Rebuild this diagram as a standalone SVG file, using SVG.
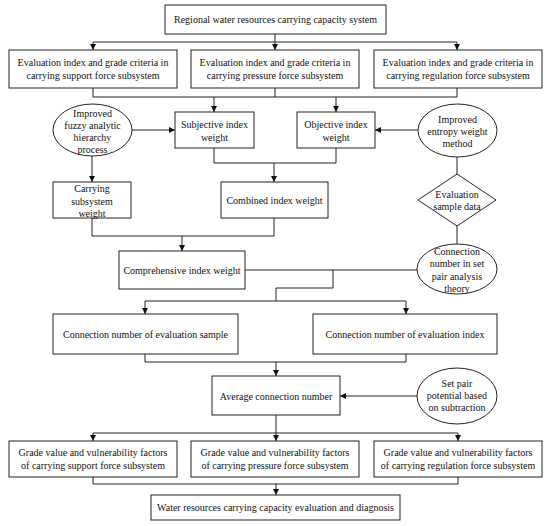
<svg xmlns="http://www.w3.org/2000/svg" width="550" height="526" viewBox="0 0 550 526">
<style>
.n{fill:#fff;stroke:#222;stroke-width:1}
.t{font-family:"Liberation Serif","Times New Roman",serif;font-size:10px;fill:#111;text-anchor:middle}
.c{fill:none;stroke:#222;stroke-width:1}
.a{marker-end:url(#ah)}
</style>
<defs>
<marker id="ah" markerWidth="6" markerHeight="6" refX="6" refY="3" orient="auto" markerUnits="userSpaceOnUse">
<path d="M0,0 L6,3 L0,6 Z" fill="#111"/>
</marker>
</defs>
<rect width="550" height="526" fill="#fff"/>
<g id="connectors">
<path class="c" d="M275,34 V42 M93,42 H457"/>
<path class="c a" d="M93,42 V50"/>
<path class="c a" d="M275,42 V50"/>
<path class="c a" d="M457,42 V50"/>
<path class="c" d="M93,88 V97 M275,88 V97 M457,88 V97 M93,97 H457"/>
<path class="c a" d="M214,97 V112"/>
<path class="c a" d="M336,97 V112"/>
<path class="c a" d="M132,130 H175"/>
<path class="c a" d="M418,130 H375"/>
<path class="c" d="M214,148 V163 H336 V148"/>
<path class="c a" d="M274,163 V182"/>
<path class="c a" d="M92,156 V182"/>
<path class="c" d="M92,218 V236 H274 V218"/>
<path class="c a" d="M182,236 V251"/>
<path class="c" d="M457,157 V174 M457,226 V244"/>
<path class="c" d="M245,270 H417"/>
<path class="c" d="M333,270 V288 H276 V301 M145,301 H406"/>
<path class="c a" d="M145,301 V314"/>
<path class="c a" d="M406,301 V314"/>
<path class="c" d="M145,354 V362 H406 V354"/>
<path class="c a" d="M276,362 V376"/>
<path class="c a" d="M417,396 H340"/>
<path class="c" d="M276,415 V433 M93,433 H458"/>
<path class="c a" d="M93,433 V441"/>
<path class="c a" d="M276,433 V441"/>
<path class="c a" d="M458,433 V441"/>
<path class="c" d="M93,477 V484 H458 V477"/>
<path class="c a" d="M276,484 V495"/>
</g>
<g id="n1"><rect class="n" x="165" y="5" width="221" height="29"/><text class="t" x="275.5" y="23">Regional water resources carrying capacity system</text></g>
<g id="n2"><rect class="n" x="9" y="50" width="168" height="38"/><text class="t" x="93" y="66">Evaluation index and grade criteria in</text><text class="t" x="93" y="79">carrying support force subsystem</text></g>
<g id="n3"><rect class="n" x="191" y="50" width="168" height="38"/><text class="t" x="275" y="66">Evaluation index and grade criteria in</text><text class="t" x="275" y="79">carrying pressure force subsystem</text></g>
<g id="n4"><rect class="n" x="374" y="50" width="168" height="38"/><text class="t" x="458" y="66">Evaluation index and grade criteria in</text><text class="t" x="458" y="79">carrying regulation force subsystem</text></g>
<g id="n5"><ellipse class="n" cx="92.5" cy="130" rx="39.5" ry="26"/><text class="t" x="92.5" y="117">Improved</text><text class="t" x="92.5" y="129">fuzzy analytic</text><text class="t" x="92.5" y="141">hierarchy</text><text class="t" x="92.5" y="153">process</text></g>
<g id="n6"><rect class="n" x="175" y="112" width="79" height="36"/><text class="t" x="214.5" y="128">Subjective index</text><text class="t" x="214.5" y="141">weight</text></g>
<g id="n7"><rect class="n" x="297" y="112" width="78" height="36"/><text class="t" x="336" y="128">Objective index</text><text class="t" x="336" y="141">weight</text></g>
<g id="n8"><ellipse class="n" cx="457.5" cy="130.5" rx="39.5" ry="26.5"/><text class="t" x="457.5" y="123">Improved</text><text class="t" x="457.5" y="135">entropy weight</text><text class="t" x="457.5" y="147">method</text></g>
<g id="n9"><rect class="n" x="53" y="182" width="78" height="36"/><text class="t" x="92" y="192">Carrying</text><text class="t" x="92" y="204.5">subsystem</text><text class="t" x="92" y="217">weight</text></g>
<g id="n10"><rect class="n" x="221" y="182" width="107" height="36"/><text class="t" x="274.5" y="203.5">Combined index weight</text></g>
<g id="n11"><path class="n" d="M457,174 L496,200 L457,226 L418,200 Z"/><text class="t" x="457" y="198">Evaluation</text><text class="t" x="457" y="210">sample data</text></g>
<g id="n12"><rect class="n" x="119" y="251" width="126" height="38"/><text class="t" x="182" y="273.5">Comprehensive index weight</text></g>
<g id="n13"><ellipse class="n" cx="457" cy="269" rx="40" ry="25"/><text class="t" x="457" y="255">Connection</text><text class="t" x="457" y="267">number in set</text><text class="t" x="457" y="279.5">pair analysis</text><text class="t" x="457" y="292">theory</text></g>
<g id="n14"><rect class="n" x="53" y="314" width="185" height="40"/><text class="t" x="145.5" y="337.5">Connection number of evaluation sample</text></g>
<g id="n15"><rect class="n" x="313" y="314" width="184" height="40"/><text class="t" x="405" y="337.5">Connection number of evaluation index</text></g>
<g id="n16"><rect class="n" x="212" y="376" width="128" height="39"/><text class="t" x="276" y="399.5">Average connection number</text></g>
<g id="n17"><ellipse class="n" cx="457" cy="396" rx="40" ry="28"/><text class="t" x="457" y="387">Set pair</text><text class="t" x="457" y="399">potential based</text><text class="t" x="457" y="411">on subtraction</text></g>
<g id="n18"><rect class="n" x="9" y="441" width="168" height="36"/><text class="t" x="93" y="456">Grade value and vulnerability factors</text><text class="t" x="93" y="469">of carrying support force subsystem</text></g>
<g id="n19"><rect class="n" x="191" y="441" width="168" height="36"/><text class="t" x="275" y="456">Grade value and vulnerability factors</text><text class="t" x="275" y="469">of carrying pressure force subsystem</text></g>
<g id="n20"><rect class="n" x="374" y="441" width="168" height="36"/><text class="t" x="458" y="456">Grade value and vulnerability factors</text><text class="t" x="458" y="469">of carrying regulation force subsystem</text></g>
<g id="n21"><rect class="n" x="151" y="495" width="249" height="25"/><text class="t" x="275.5" y="511">Water resources carrying capacity evaluation and diagnosis</text></g>
</svg>
